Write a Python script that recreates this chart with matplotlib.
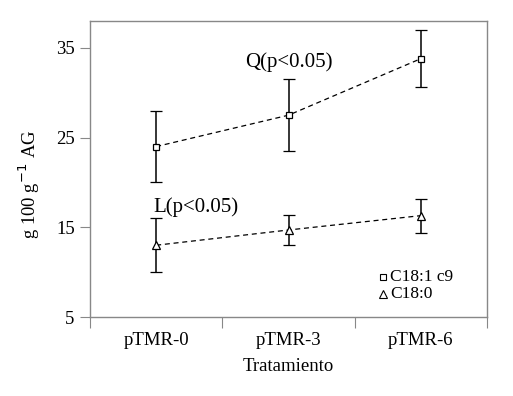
import numpy as np
import matplotlib
matplotlib.use("Agg")
import matplotlib.pyplot as plt

tratamientos = ["pTMR-0", "pTMR-3", "pTMR-6"]
c18_1 = [24.0, 27.5, 33.8]
c18_1_err = [4.0, 4.0, 3.2]
c18_0 = [13.0, 14.7, 16.3]
c18_0_err = [3.0, 1.65, 1.9]

plt.rcParams['font.family'] = ['Liberation Serif', 'DejaVu Serif']

fig = plt.figure(figsize=(5.13, 3.96), dpi=100)
ax = fig.add_axes([90/513, 1 - 317/396, 397/513, 296/396])

x = np.arange(len(tratamientos)) + 0.5
ax.errorbar(x, c18_1, yerr=c18_1_err, fmt='s', mfc='white', mec='black', ms=5, mew=0.9,
            ecolor='black', elinewidth=1.1, capsize=4, capthick=1.1, ls='none', zorder=3)
ax.plot(x, c18_1, ls=(0, (4, 3)), color='black', lw=0.9, zorder=2)
ax.errorbar(x, c18_0, yerr=c18_0_err, fmt='^', mfc='white', mec='black', ms=6, mew=0.9,
            ecolor='black', elinewidth=1.1, capsize=4, capthick=1.1, ls='none', zorder=3)
ax.plot(x, c18_0, ls=(0, (4, 3)), color='black', lw=0.9, zorder=2)

ax.set_xlim(0, 3)
ax.set_ylim(5, 38)
ax.set_xticks([0, 1, 2, 3])
ax.set_xticklabels([])
ax.set_xticks(x, minor=True)
ax.set_xticklabels(tratamientos, minor=True, fontsize=13.5)
ax.tick_params(axis='x', which='minor', length=0, pad=11)
ax.tick_params(axis='x', which='major', length=8, color='#888888', direction='out')
ax.set_yticks([5, 15, 25, 35])
ax.tick_params(axis='y', length=7, color='#888888', labelsize=13.5, pad=4)

for s in ax.spines.values():
    s.set_color('#888888')
    s.set_linewidth(1.0)

ax.text(1.17, 33.4, "Q(p<0.05)", fontsize=15, ha='left', va='center')
ax.text(0.476, 17.2, "L(p<0.05)", fontsize=15, ha='left', va='center')

ax.plot([2.214], [9.5], marker='s', mfc='white', mec='black', ms=5, mew=0.8, ls='none')
ax.text(2.27, 9.5, "C18:1 c9", fontsize=12.5, va='center')
ax.plot([2.214], [7.55], marker='^', mfc='white', mec='black', ms=6, mew=0.8, ls='none')
ax.text(2.27, 7.55, "C18:0", fontsize=12.5, va='center')

ax.set_xlabel("Tratamiento", fontsize=13.5)
ax.xaxis.set_label_coords(0.5, -0.138)
ax.set_ylabel("g 100 g$^{-1}$ AG", fontsize=13.5)
ax.yaxis.set_label_coords(-0.12, 0.45)

fig.savefig("out.png", dpi=100)
